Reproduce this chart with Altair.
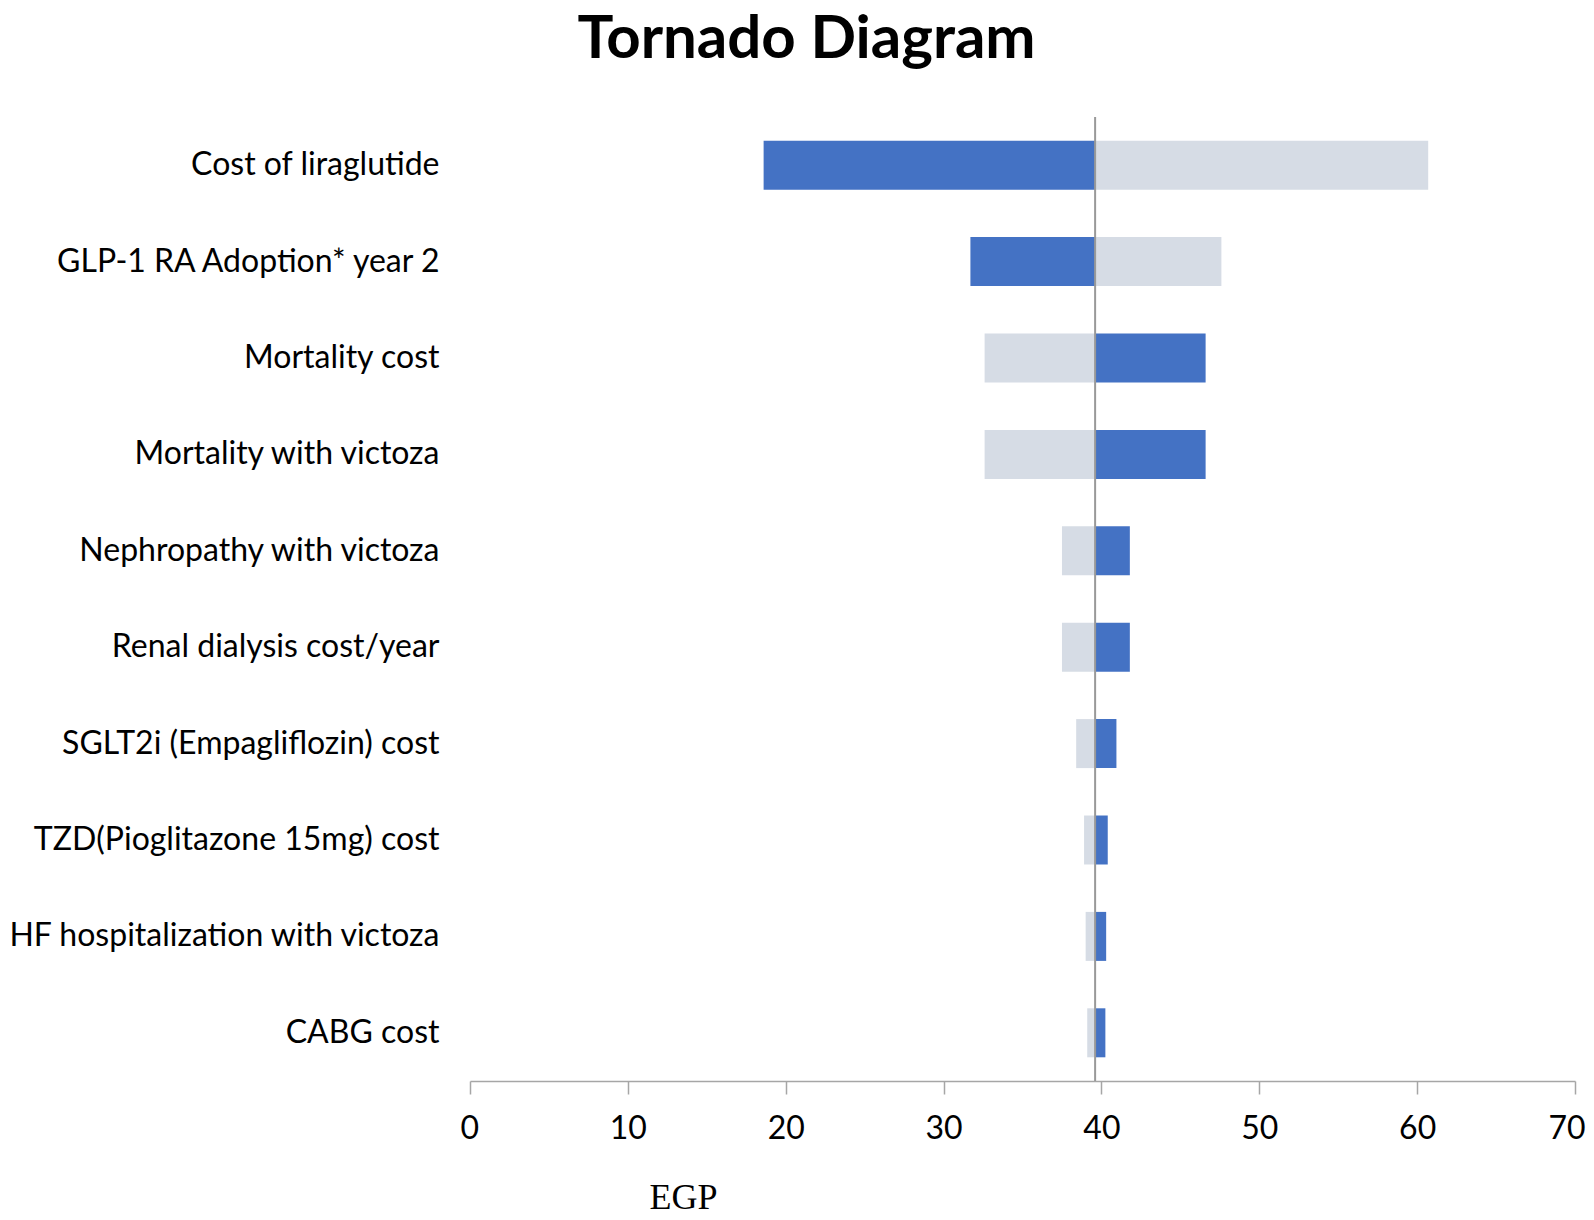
import altair as alt
import pandas as pd

categories = [
    "Cost of liraglutide",
    "GLP-1 RA Adoption* year 2",
    "Mortality cost",
    "Mortality with victoza",
    "Nephropathy with victoza",
    "Renal dialysis  cost/year",
    "SGLT2i (Empagliflozin) cost",
    "TZD(Pioglitazone 15mg) cost",
    "HF hospitalization with victoza",
    "CABG cost",
]
base_value = 39.6
dark_end = [18.6, 31.7, 46.6, 46.6, 41.8, 41.8, 40.95, 40.4, 40.3, 40.25]
light_end = [60.7, 47.6, 32.6, 32.6, 37.5, 37.5, 38.4, 38.9, 39.0, 39.1]
x_ticks = [0, 10, 20, 30, 40, 50, 60, 70]

rows = []
for c, d, l in zip(categories, dark_end, light_end):
    rows.append({"cat": c, "start": base_value, "end": d, "series": "dark"})
    rows.append({"cat": c, "start": base_value, "end": l, "series": "light"})
df = pd.DataFrame(rows)

xscale = alt.Scale(domain=[0, 70], nice=False, zero=False)

bars = alt.Chart(df).mark_bar(size=49).encode(
    y=alt.Y("cat:N", sort=categories,
            scale=alt.Scale(paddingInner=0.5, paddingOuter=0.25),
            axis=alt.Axis(title=None, domain=False, ticks=False, grid=False,
                          labelFont="Lato", labelFontSize=32, labelColor="black",
                          labelPadding=31, labelLimit=600)),
    x=alt.X("start:Q", scale=xscale,
            axis=alt.Axis(values=x_ticks, title="EGP", grid=False,
                          domainColor="#a6a6a6", domainWidth=1.5,
                          tickColor="#a6a6a6", tickWidth=1.5, tickSize=13,
                          labelFont="Lato", labelFontSize=32, labelColor="black",
                          labelPadding=19, labelFlush=True, labelFlushOffset=10,
                          titleFont="Liberation Serif", titleFontSize=36,
                          titleFontWeight="normal", titleColor="black",
                          titleX=213, titleY=116, titleAnchor="middle",
                          titleBaseline="middle")),
    x2="end:Q",
    color=alt.Color("series:N",
                    scale=alt.Scale(domain=["dark", "light"],
                                    range=["#4472C4", "#D6DCE5"]),
                    legend=None),
)

center = alt.Chart(pd.DataFrame({"v": [base_value]})).mark_rule(
    color="#999999", strokeWidth=2
).encode(x=alt.X("v:Q", scale=xscale))

chart = (bars + center).properties(
    width=1105,
    height=964,
    padding={"left": 462, "top": 109, "right": 11, "bottom": 138},
    autosize=alt.AutoSizeParams(type="none"),
    title=alt.TitleParams("Tornado Diagram", font="Lato", fontSize=60,
                          fontWeight="bold", color="black", anchor="middle",
                          dx=-216, dy=6, offset=4, baseline="alphabetic"),
).configure_view(stroke=None)

chart.save("out.html", embed_options={"renderer": "svg", "actions": False})
